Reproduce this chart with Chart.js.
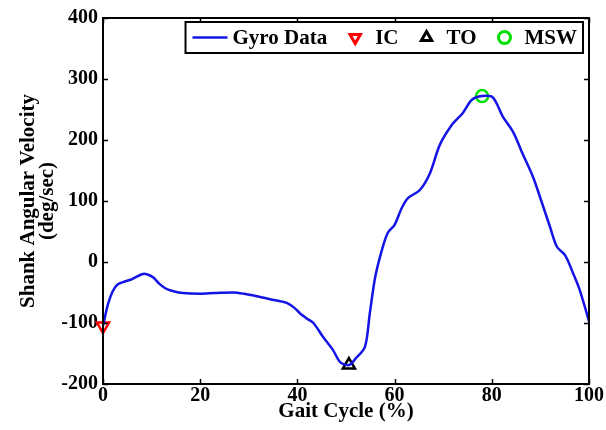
<!DOCTYPE html>
<html>
<head>
<meta charset="utf-8">
<script src="https://cdn.jsdelivr.net/npm/chart.js@4.4.1/dist/chart.umd.min.js"></script>
<style>
  html, body { margin: 0; padding: 0; background: #fff; }
  #wrap { width: 606px; height: 430px; }
</style>
</head>
<body>
<div id="wrap"><canvas id="gaitChart"></canvas></div>
<script>
// gyro curve (gait cycle %, deg/sec)
const gaitPct = [0, 1, 2, 3, 4.5, 6, 8, 9, 10.3, 11.5, 12.8, 14.5, 16.5, 20, 23, 26.8, 29, 31, 34.4, 37.8, 39.5, 40.5, 42, 43.3, 45.3, 47.3, 48.8, 50.6, 52, 53.9, 54.9, 56, 57.4, 58.6, 60, 61.5, 62.8, 65.2, 67.3, 69.3, 71.8, 74, 75.9, 78, 80.2, 82.3, 84.4, 86.2, 88.5, 89.9, 92, 93.4, 95.1, 96.7, 98.1, 100];
const gyroVals = [-105, -70, -48, -37, -32, -28, -20, -20, -25, -35, -43, -48, -51, -52, -51, -50, -52, -55, -61, -67, -76, -84, -93, -100, -123, -144, -164, -169, -158, -139, -84, -25, 20, 48, 61, 89, 105, 118, 146, 192, 225, 244, 266, 272, 270, 238, 213, 180, 139, 107, 57, 25, 11, -18, -46, -97];

// gait events
const icPoint = { x: 0, y: -105 };
const toPoint = { x: 50.6, y: -169 };
const mswPoint = { x: 78, y: 272 };

const xTicks = [0, 20, 40, 60, 80, 100];
const yTicks = [-200, -100, 0, 100, 200, 300, 400];

const FONT = '"Liberation Serif", "Times New Roman", serif';

// matlab-like box with inward ticks on all four sides
const frameBox = {
    id: 'frameBox',
    afterDatasetsDraw(chart) {
        const { ctx, chartArea: a, scales } = chart;
        const len = 5;
        ctx.save();
        ctx.strokeStyle = '#000';
        ctx.lineWidth = 1.5;
        ctx.beginPath();
        xTicks.forEach(v => {
            const px = Math.round(scales.x.getPixelForValue(v)) + 0.5;
            ctx.moveTo(px, a.bottom); ctx.lineTo(px, a.bottom - len);
            ctx.moveTo(px, a.top); ctx.lineTo(px, a.top + len);
        });
        yTicks.forEach(v => {
            const py = Math.round(scales.y.getPixelForValue(v)) + 0.5;
            ctx.moveTo(a.left, py); ctx.lineTo(a.left + len, py);
            ctx.moveTo(a.right, py); ctx.lineTo(a.right - len, py);
        });
        ctx.stroke();
        ctx.lineWidth = 2;
        ctx.strokeRect(a.left, a.top, a.right - a.left, a.bottom - a.top);
        ctx.restore();
    }
};

function drawMarker(ctx, style, rot, r, x, y) {
    ctx.beginPath();
    if (style === 'circle') {
        ctx.arc(x, y, r, 0, Math.PI * 2);
    } else {
        let rad = rot * Math.PI / 180;
        for (let i = 0; i < 3; i++) {
            const px = x + Math.sin(rad) * r, py = y - Math.cos(rad) * r;
            if (i === 0) ctx.moveTo(px, py); else ctx.lineTo(px, py);
            rad += Math.PI * 2 / 3;
        }
        ctx.closePath();
    }
    ctx.stroke();
}

// boxed legend inside the top right corner
const boxLegend = {
    id: 'boxLegend',
    afterDraw(chart) {
        const { ctx, chartArea: a } = chart;
        const ds = chart.data.datasets;
        ctx.save();
        ctx.font = 'bold 21px ' + FONT;
        ctx.textBaseline = 'middle';
        const padL = 7, padR = 6, lineW = 35, lineGap = 5, markW = 14, markGap = 13, gapItem = 21;
        let total = padL + padR;
        ds.forEach((d, i) => {
            total += (d.showLine === false ? markW + markGap : lineW + lineGap) + ctx.measureText(d.label).width;
            if (i < ds.length - 1) total += gapItem;
        });
        const right = a.right - 6, top = a.top + 4, h = 31;
        const left = right - total;
        ctx.fillStyle = '#fff';
        ctx.fillRect(left, top, total, h);
        ctx.strokeStyle = '#000';
        ctx.lineWidth = 2;
        ctx.strokeRect(left, top, total, h);
        let x = left + padL;
        const cy = top + h / 2;
        ds.forEach(d => {
            if (d.showLine === false) {
                ctx.strokeStyle = d.borderColor;
                ctx.lineWidth = 3;
                drawMarker(ctx, d.pointStyle, d.pointRotation || 0, 6, x + markW / 2, cy);
                x += markW + markGap;
            } else {
                ctx.strokeStyle = d.borderColor;
                ctx.lineWidth = d.borderWidth;
                ctx.beginPath();
                ctx.moveTo(x, cy); ctx.lineTo(x + lineW, cy);
                ctx.stroke();
                x += lineW + lineGap;
            }
            ctx.fillStyle = '#000';
            ctx.fillText(d.label, x, cy + 1);
            x += ctx.measureText(d.label).width + gapItem;
        });
        ctx.restore();
    }
};

new Chart(document.getElementById('gaitChart'), {
    type: 'line',
    data: {
        datasets: [{
            label: 'Gyro Data',
            data: gaitPct.map((p, i) => ({ x: p, y: gyroVals[i] })),
            borderColor: 'rgb(20,20,230)',
            borderWidth: 2.5,
            pointRadius: 0,
            tension: 0.3,
            fill: false
        }, {
            label: 'IC',
            data: [icPoint],
            showLine: false,
            pointStyle: 'triangle',
            pointRotation: 180,
            pointRadius: 7,
            pointBorderWidth: 2.5,
            borderColor: '#ff0000',
            backgroundColor: 'rgba(0,0,0,0)'
        }, {
            label: 'TO',
            data: [toPoint],
            showLine: false,
            pointStyle: 'triangle',
            pointRadius: 7,
            pointBorderWidth: 2.5,
            borderColor: '#000',
            backgroundColor: 'rgba(0,0,0,0)'
        }, {
            label: 'MSW',
            data: [mswPoint],
            showLine: false,
            pointStyle: 'circle',
            pointRadius: 6,
            pointBorderWidth: 2.5,
            borderColor: '#00e000',
            backgroundColor: 'rgba(0,0,0,0)'
        }]
    },
    options: {
        responsive: true,
        maintainAspectRatio: false,
        animation: false,
        clip: false,
        layout: { padding: { top: 18, right: 17, left: 0, bottom: 0 } },
        plugins: { legend: { display: false }, tooltip: { enabled: false } },
        scales: {
            x: {
                type: 'linear',
                min: 0, max: 100,
                afterBuildTicks: s => { s.ticks = xTicks.map(v => ({ value: v })); },
                afterFit: s => { s.height = 46; },
                grid: { display: false, drawTicks: false },
                border: { display: false },
                ticks: { color: '#000', padding: 0, maxRotation: 0, font: { family: FONT, size: 20, weight: 'bold' } },
                title: {
                    display: true, text: 'Gait Cycle (%)', color: '#000',
                    padding: { top: 0, bottom: 6 },
                    font: { family: FONT, size: 21, weight: 'bold', lineHeight: 1.2 }
                }
            },
            y: {
                min: -200, max: 400,
                afterBuildTicks: s => { s.ticks = yTicks.map(v => ({ value: v })); },
                afterFit: s => { s.width = 103; },
                grid: { display: false, drawTicks: false },
                border: { display: false },
                ticks: { color: '#000', padding: 5, font: { family: FONT, size: 20, weight: 'bold' } },
                title: {
                    display: true, text: ['Shank Angular Velocity', '(deg/sec)'], color: '#000',
                    padding: { top: 19, bottom: 0 },
                    font: { family: FONT, size: 21, weight: 'bold', lineHeight: 0.9 }
                }
            }
        }
    },
    plugins: [frameBox, boxLegend]
});
</script>
</body>
</html>
